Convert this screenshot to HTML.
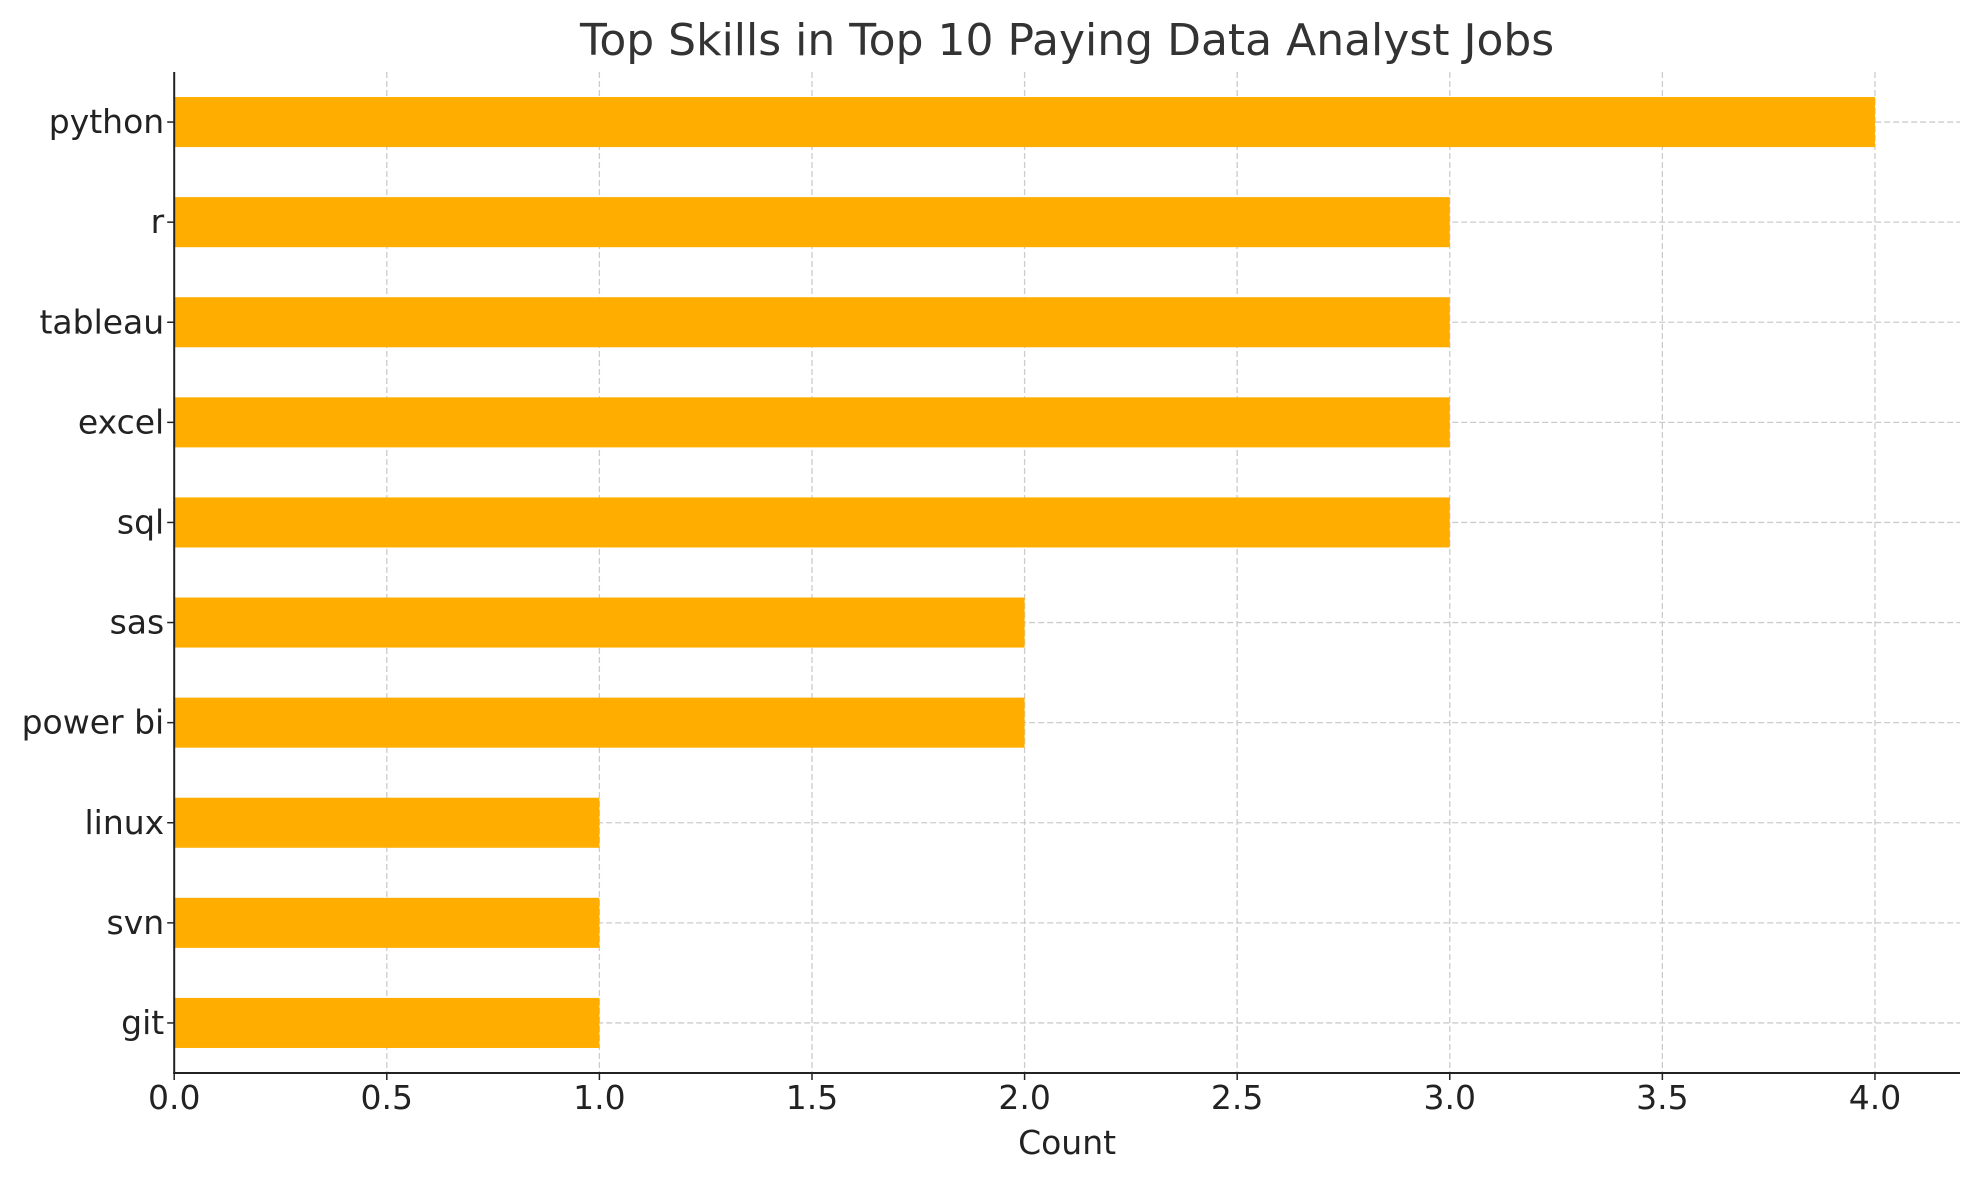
<!DOCTYPE html>
<html><head><meta charset="utf-8"><style>
html,body{margin:0;padding:0;background:#fff;}
svg{display:block;font-family:"DejaVu Sans","Liberation Sans",sans-serif;}
</style></head><body>
<svg id="chart" width="1979" height="1180" viewBox="0 0 1979 1180"></svg>
<script>
const categories = ["python","r","tableau","excel","sql","sas","power bi","linux","svn","git"];
const counts = [4,3,3,3,3,2,2,1,1,1];
const xTicks = [0,0.5,1,1.5,2,2.5,3,3.5,4];
const xTickLabels = ["0.0","0.5","1.0","1.5","2.0","2.5","3.0","3.5","4.0"];

const L=174.2, R=1960, T=72, B=1073, XMAX=4.2;
const xs = v => L + v/XMAX*(R-L);
const band = (B-T)/categories.length;
const ys = i => T + band*(i+0.5);
const NS="http://www.w3.org/2000/svg";
const svg=document.getElementById('chart');
function mk(tag,attrs,parent){const e=document.createElementNS(NS,tag);for(const k in attrs)e.setAttribute(k,attrs[k]);(parent||svg).appendChild(e);return e;}

xTicks.forEach((t,i)=>{
  const g=mk('line',{x1:xs(t),x2:xs(t),y1:T,y2:B,stroke:'#cccccc','stroke-width':1.3,'stroke-dasharray':'6,3'});
  
  
});
categories.forEach((c,i)=>{
  const g=mk('line',{x1:L,x2:R,y1:ys(i),y2:ys(i),stroke:'#cccccc','stroke-width':1.3,'stroke-dasharray':'6,3'});
  
  
});
categories.forEach((c,i)=>{
  const b=mk('rect',{x:L,y:ys(i)-band*0.25,width:xs(counts[i])-L,height:band*0.5,fill:'#FFAE00'});
  
  
  const tk=mk('line',{x1:L-7,x2:L,y1:ys(i),y2:ys(i),stroke:'#222','stroke-width':1.5});
  
  
  const t=mk('text',{x:L-10,y:ys(i)+11,'text-anchor':'end','font-size':33,fill:'#222'});
  t.textContent=c;
  
  
});
const s1=mk('line',{x1:L,x2:L,y1:T,y2:B+1,stroke:'#222','stroke-width':2});


const s2=mk('line',{x1:L-1,x2:R,y1:B,y2:B,stroke:'#222','stroke-width':2});


xTicks.forEach((t,i)=>{
  const tk=mk('line',{x1:xs(t),x2:xs(t),y1:B,y2:B+7,stroke:'#222','stroke-width':1.5});
  
  
  const lb=mk('text',{x:xs(t),y:B+36,'text-anchor':'middle','font-size':33,fill:'#222'});
  lb.textContent=xTickLabels[i];
  
  
});
const xt=mk('text',{x:(L+R)/2,y:1154,'text-anchor':'middle','font-size':33,fill:'#222'});
xt.textContent='Count';


const tt=mk('text',{x:(L+R)/2,y:55,'text-anchor':'middle','font-size':44,fill:'#333'});
tt.textContent='Top Skills in Top 10 Paying Data Analyst Jobs';


</script>
</body></html>
